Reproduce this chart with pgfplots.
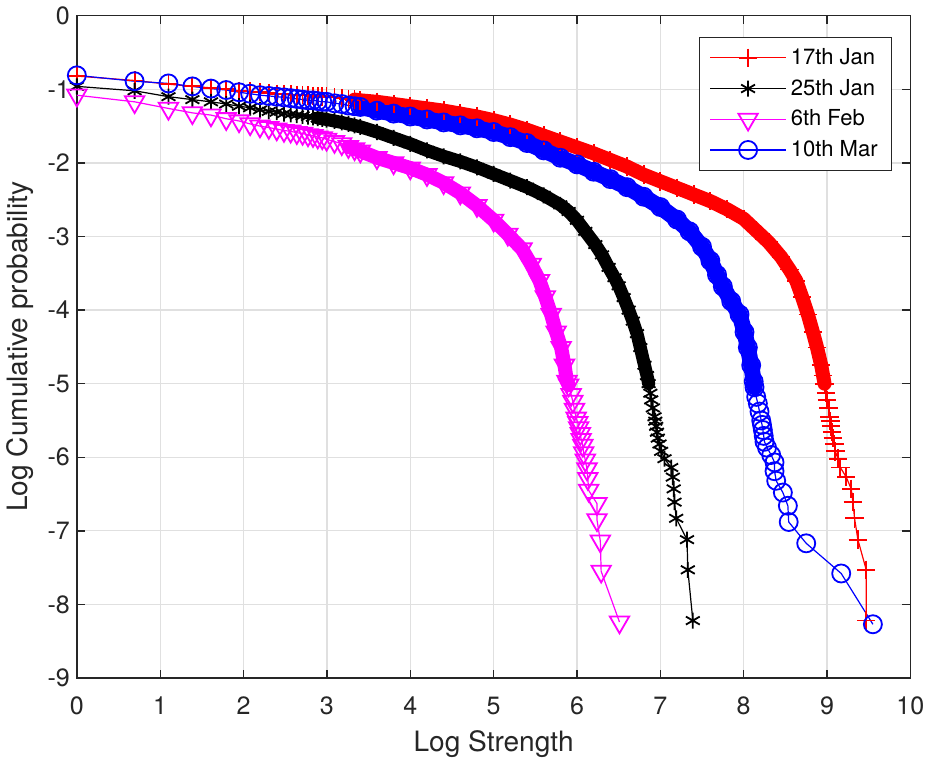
\documentclass[border=0pt]{standalone}
\usepackage{pgfplots}
\pgfplotsset{compat=1.18}
\usepackage{fontspec}
\setmainfont{TeX Gyre Heros}

\definecolor{axgray}{rgb}{0.15,0.15,0.15}
\definecolor{gridgray}{rgb}{0.88,0.88,0.88}
\definecolor{mred}{rgb}{1,0,0}
\definecolor{mmag}{rgb}{1,0,1}
\definecolor{mblue}{rgb}{0,0,1}

\begin{document}
\begin{tikzpicture}
\begin{axis}[
    scale only axis,
    width=416pt, height=330.5pt,
    xmin=0, xmax=10, ymin=-9, ymax=0,
    xtick={0,1,...,10}, ytick={-9,-8,...,0},
    xlabel={Log Strength},
    ylabel={Log Cumulative probability},
    grid=major,
    grid style={gridgray, line width=0.6pt},
    axis line style={axgray, line width=0.7pt},
    tick style={axgray, line width=0.7pt},
    major tick length=4pt,
    tick align=inside,
    ticklabel style={font=\fontsize{12.5}{15}\selectfont, text=axgray},
    xticklabel shift=6pt,
    label style={font=\fontsize{14}{17}\selectfont, text=axgray},
    xlabel style={yshift=-1pt},
    /pgf/number format/assume math mode=true,
    clip=false,
    legend style={at={(0.978,0.968)}, anchor=north east, draw=axgray,
        fill=white, font=\fontsize{11}{13}\selectfont, row sep=1.8pt,
        inner xsep=5pt, inner ysep=3.5pt},
    legend cell align=left,
    legend image code/.code={\draw[mark repeat=2,mark phase=2]
        plot coordinates {(0pt,0pt) (19pt,0pt) (38pt,0pt)};},
]
% 17th Jan
\addplot[forget plot, mred, line width=7pt, line join=round, line cap=round] coordinates {
(3.332,-1.14) (3.401,-1.15) (3.6,-1.17) (3.8,-1.20) (4.0,-1.23) (4.2,-1.26) (4.4,-1.29)
(4.6,-1.33) (4.8,-1.37) (5.0,-1.42) (5.2,-1.48) (5.4,-1.55) (5.6,-1.63) (5.8,-1.71)
(6.0,-1.79) (6.2,-1.87) (6.4,-1.96) (6.6,-2.05) (6.8,-2.16) (7.0,-2.25) (7.2,-2.34)
(7.4,-2.43) (7.6,-2.52) (7.8,-2.63) (8.0,-2.76) (8.15,-2.92) (8.3,-3.08) (8.45,-3.28)
(8.55,-3.45) (8.63,-3.60) (8.70,-3.82) (8.77,-4.06) (8.83,-4.30) (8.88,-4.51) (8.93,-4.75)
(8.97,-5.00)
};
\addplot[mred, line width=0.6pt, mark=+, mark size=4.6pt, mark options={line width=0.9pt}] coordinates {
(0,-0.82) (0.693,-0.88) (1.099,-0.93) (1.386,-0.96) (1.609,-0.98) (1.792,-1.00) (1.946,-1.02)
(2.079,-1.03) (2.197,-1.04) (2.303,-1.05) (2.398,-1.06) (2.485,-1.065) (2.565,-1.07)
(2.639,-1.075) (2.708,-1.08) (2.773,-1.085) (2.833,-1.09) (2.890,-1.095) (2.944,-1.10)
(2.996,-1.10) (3.091,-1.11) (3.178,-1.12) (3.258,-1.13) (3.332,-1.14) (3.401,-1.15)
(3.6,-1.17) (3.8,-1.20) (4.0,-1.23) (4.2,-1.26) (4.4,-1.29) (4.6,-1.33) (4.8,-1.37)
(5.0,-1.42) (5.2,-1.48) (5.4,-1.55) (5.6,-1.63) (5.8,-1.71) (6.0,-1.79) (6.2,-1.87)
(6.4,-1.96) (6.6,-2.05) (6.8,-2.16) (7.0,-2.25) (7.2,-2.34) (7.4,-2.43) (7.6,-2.52)
(7.8,-2.63) (8.0,-2.76) (8.15,-2.92) (8.3,-3.08) (8.45,-3.28) (8.55,-3.45) (8.63,-3.60)
(8.70,-3.82) (8.77,-4.06) (8.83,-4.30) (8.88,-4.51) (8.93,-4.75)
(8.95,-4.89) (8.97,-5.00) (8.99,-5.13) (9.00,-5.22) (9.02,-5.33) (9.03,-5.45) (9.04,-5.51)
(9.05,-5.58) (9.06,-5.66) (9.07,-5.74) (9.09,-5.82) (9.10,-5.92) (9.13,-6.02) (9.16,-6.14)
(9.23,-6.27) (9.29,-6.43) (9.31,-6.61) (9.33,-6.83) (9.37,-7.12) (9.47,-7.53) (9.47,-8.22)
};
\addlegendentry{17th Jan}
% 25th Jan
\addplot[forget plot, black, line width=6.5pt, line join=round, line cap=round] coordinates {
(2.890,-1.39) (2.996,-1.41) (3.178,-1.45) (3.401,-1.51) (3.6,-1.58) (3.8,-1.66)
(4.0,-1.74) (4.2,-1.83) (4.4,-1.91) (4.6,-1.98) (4.8,-2.06) (5.0,-2.15) (5.2,-2.24)
(5.4,-2.33) (5.6,-2.44) (5.8,-2.57) (5.9,-2.66) (6.0,-2.78) (6.1,-2.93) (6.22,-3.11)
(6.3,-3.25) (6.38,-3.42) (6.45,-3.56) (6.5,-3.67) (6.56,-3.83) (6.62,-4.00) (6.67,-4.15)
(6.72,-4.32) (6.76,-4.51) (6.81,-4.75) (6.84,-4.89) (6.86,-5.00)
};
\addplot[black, line width=0.6pt, mark=asterisk, mark size=4pt, mark options={line width=0.9pt}] coordinates {
(0,-0.96) (0.693,-1.02) (1.099,-1.10) (1.386,-1.14) (1.609,-1.17) (1.792,-1.20) (1.946,-1.23)
(2.079,-1.25) (2.197,-1.28) (2.303,-1.30) (2.398,-1.31) (2.485,-1.33) (2.565,-1.34)
(2.639,-1.35) (2.708,-1.36) (2.773,-1.37) (2.833,-1.38) (2.890,-1.39) (2.944,-1.40)
(2.996,-1.41) (3.091,-1.43) (3.178,-1.45) (3.258,-1.47) (3.332,-1.49) (3.401,-1.51)
(3.6,-1.58) (3.8,-1.66) (4.0,-1.74) (4.2,-1.83) (4.4,-1.91) (4.6,-1.98) (4.8,-2.06)
(5.0,-2.15) (5.2,-2.24) (5.4,-2.33) (5.6,-2.44) (5.8,-2.57) (5.9,-2.66) (6.0,-2.78)
(6.1,-2.93) (6.22,-3.11) (6.3,-3.25) (6.38,-3.42) (6.45,-3.56) (6.5,-3.67) (6.56,-3.83)
(6.62,-4.00) (6.67,-4.15) (6.72,-4.32) (6.76,-4.51) (6.81,-4.75)
(6.84,-4.89) (6.86,-5.00) (6.88,-5.13) (6.89,-5.22) (6.91,-5.33) (6.93,-5.45) (6.94,-5.51)
(6.95,-5.58) (6.96,-5.66) (6.97,-5.74) (6.99,-5.82) (7.01,-5.92) (7.05,-6.02) (7.13,-6.14)
(7.15,-6.27) (7.16,-6.43) (7.17,-6.61) (7.19,-6.83) (7.32,-7.12) (7.33,-7.53) (7.39,-8.22)
};
\addlegendentry{25th Jan}
% 6th Feb
\addplot[forget plot, mmag, line width=7pt, line join=round, line cap=round] coordinates {
(3.258,-1.78) (3.401,-1.84) (3.6,-1.93) (3.8,-2.00) (4.0,-2.07) (4.2,-2.16) (4.4,-2.27)
(4.6,-2.41) (4.8,-2.58) (5.0,-2.78) (5.17,-2.97) (5.34,-3.17) (5.45,-3.38) (5.55,-3.60)
(5.62,-3.82) (5.69,-4.06) (5.75,-4.30) (5.81,-4.51) (5.85,-4.75) (5.88,-4.97) (5.90,-5.02)
};
\addplot[mmag, line width=0.6pt, mark=triangle, mark size=5.6pt, mark options={rotate=180, line width=0.9pt}] coordinates {
(0,-1.08) (0.693,-1.17) (1.099,-1.26) (1.386,-1.32) (1.609,-1.35) (1.792,-1.40) (1.946,-1.43)
(2.079,-1.47) (2.197,-1.50) (2.303,-1.52) (2.398,-1.54) (2.485,-1.56) (2.565,-1.57)
(2.639,-1.59) (2.708,-1.60) (2.773,-1.62) (2.833,-1.63) (2.890,-1.65) (2.944,-1.66)
(2.996,-1.68) (3.091,-1.71) (3.178,-1.74) (3.258,-1.78) (3.332,-1.81) (3.401,-1.84)
(3.6,-1.93) (3.8,-2.00) (4.0,-2.07) (4.2,-2.16) (4.4,-2.27) (4.6,-2.41) (4.8,-2.58)
(5.0,-2.78) (5.17,-2.97) (5.34,-3.17) (5.45,-3.38) (5.55,-3.60) (5.62,-3.82) (5.69,-4.06)
(5.75,-4.30) (5.81,-4.51) (5.85,-4.75) (5.88,-4.97)
(5.90,-5.02) (5.93,-5.15) (5.95,-5.24) (5.97,-5.35) (5.99,-5.47) (6.01,-5.53) (6.02,-5.60)
(6.04,-5.68) (6.05,-5.76) (6.07,-5.84) (6.08,-5.94) (6.10,-6.04) (6.12,-6.16) (6.13,-6.29)
(6.14,-6.45) (6.24,-6.63) (6.24,-6.85) (6.28,-7.14) (6.29,-7.55) (6.51,-8.24)
};
\addlegendentry{6th Feb}
% 10th Mar
\addplot[forget plot, mblue, line width=8pt, line join=round, line cap=round] coordinates {
(3.401,-1.24) (3.6,-1.29) (3.8,-1.33) (4.0,-1.37) (4.2,-1.41) (4.4,-1.45)
(4.6,-1.49) (4.8,-1.53) (5.0,-1.58) (5.2,-1.65) (5.4,-1.73) (5.6,-1.83) (5.8,-1.93)
(6.0,-2.02) (6.2,-2.12) (6.4,-2.22) (6.6,-2.33) (6.8,-2.46) (7.0,-2.60) (7.2,-2.77)
(7.35,-2.93) (7.5,-3.14) (7.6,-3.33) (7.68,-3.52) (7.75,-3.68) (7.85,-3.88) (7.95,-4.06)
(8.01,-4.30) (8.05,-4.51) (8.09,-4.75) (8.12,-4.97) (8.13,-5.05)
};
\addplot[mblue, line width=0.6pt, mark=o, mark size=4.5pt, mark options={line width=0.9pt}] coordinates {
(0,-0.81) (0.693,-0.89) (1.099,-0.92) (1.386,-0.96) (1.609,-0.99) (1.792,-1.01) (1.946,-1.04)
(2.079,-1.06) (2.197,-1.08) (2.303,-1.09) (2.398,-1.10) (2.485,-1.11) (2.565,-1.12)
(2.639,-1.13) (2.708,-1.14) (2.773,-1.15) (2.833,-1.15) (2.890,-1.16) (2.944,-1.17)
(2.996,-1.17) (3.091,-1.19) (3.178,-1.20) (3.258,-1.22) (3.332,-1.23) (3.401,-1.24)
(3.6,-1.29) (3.8,-1.33) (4.0,-1.37) (4.2,-1.41) (4.4,-1.45) (4.6,-1.49) (4.8,-1.53)
(5.0,-1.58) (5.2,-1.65) (5.4,-1.73) (5.6,-1.83) (5.8,-1.93) (6.0,-2.02) (6.2,-2.12)
(6.4,-2.22) (6.6,-2.33) (6.8,-2.46) (7.0,-2.60) (7.2,-2.77) (7.35,-2.93) (7.5,-3.14)
(7.6,-3.33) (7.68,-3.52) (7.75,-3.68) (7.85,-3.88) (7.95,-4.06) (8.01,-4.30) (8.05,-4.51)
(8.09,-4.75) (8.12,-4.97)
(8.13,-5.05) (8.15,-5.18) (8.17,-5.27) (8.19,-5.38) (8.21,-5.50) (8.22,-5.56) (8.23,-5.63)
(8.24,-5.71) (8.25,-5.79) (8.28,-5.87) (8.33,-5.97) (8.37,-6.07) (8.37,-6.19) (8.39,-6.32)
(8.47,-6.48) (8.53,-6.66) (8.54,-6.88) (8.75,-7.17) (9.17,-7.58) (9.55,-8.27)
};
\addlegendentry{10th Mar}
\end{axis}
\end{tikzpicture}
\end{document}
